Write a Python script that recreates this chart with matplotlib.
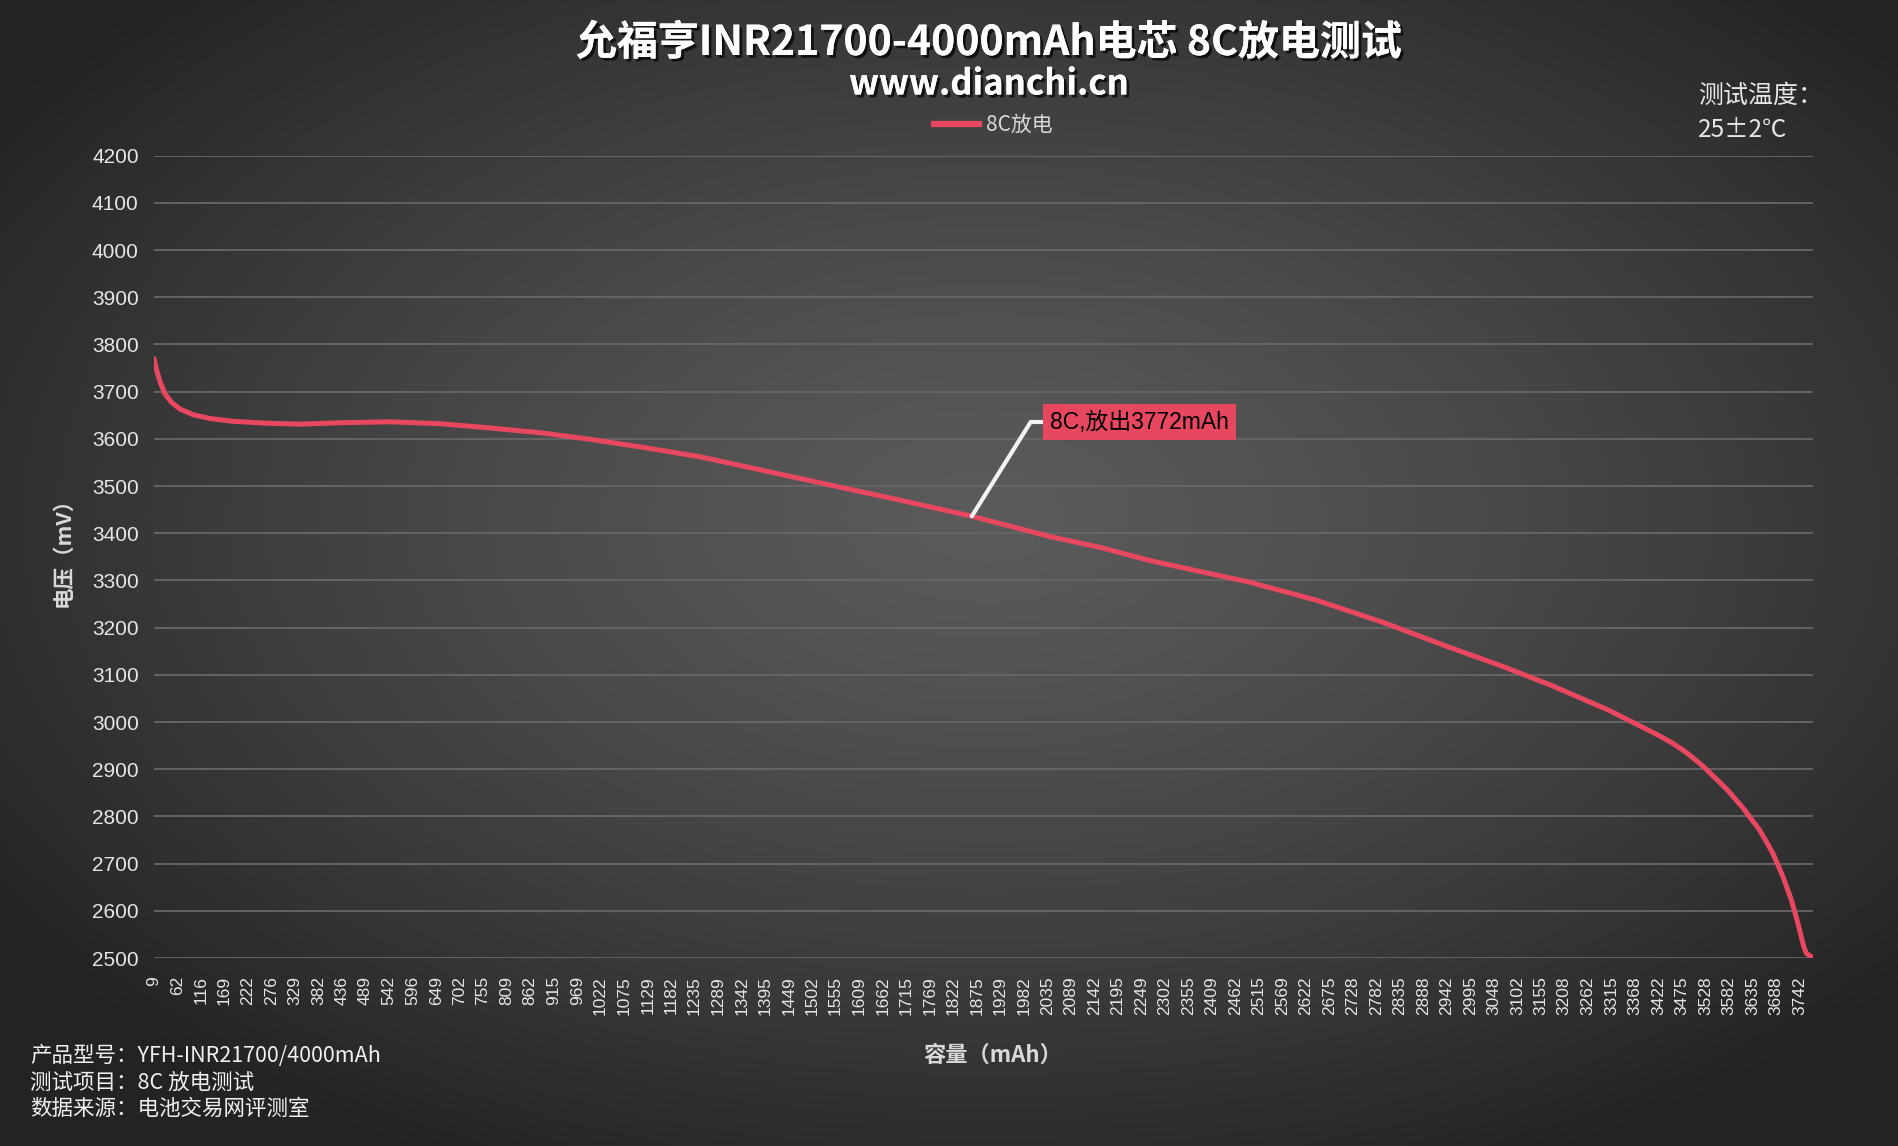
import numpy as np
import matplotlib
matplotlib.use("Agg")
import matplotlib.pyplot as plt
import matplotlib.patheffects as pe
from matplotlib.lines import Line2D

# ---------------- data ----------------
capacity_mAh = [9, 15, 23, 34, 49, 68, 98, 136, 189, 265, 340, 431, 544, 658, 771, 884, 998,
                1111, 1247, 1474, 1701, 1864, 2041, 2155, 2268, 2495, 2646, 2797, 2948, 3062,
                3175, 3311, 3417, 3450, 3478, 3500, 3523, 3576, 3614, 3651, 3681, 3704, 3723,
                3738, 3751, 3757, 3772]
voltage_mV = [3770, 3745, 3720, 3695, 3677, 3663, 3651, 3643, 3637, 3633, 3631, 3634, 3636,
              3632, 3623, 3613, 3599, 3583, 3562, 3516, 3470, 3436, 3393, 3370, 3342, 3296,
              3258, 3211, 3158, 3120, 3079, 3024, 2974, 2957, 2940, 2924, 2906, 2858, 2817,
              2771, 2722, 2672, 2623, 2573, 2524, 2510, 2500]
x_tick_labels = [9, 62, 116, 169, 222, 276, 329, 382, 436, 489, 542, 596, 649, 702, 755,
                 809, 862, 915, 969, 1022, 1075, 1129, 1182, 1235, 1289, 1342, 1395, 1449,
                 1502, 1555, 1609, 1662, 1715, 1769, 1822, 1875, 1929, 1982, 2035, 2089,
                 2142, 2195, 2249, 2302, 2355, 2409, 2462, 2515, 2569, 2622, 2675, 2728,
                 2782, 2835, 2888, 2942, 2995, 3048, 3102, 3155, 3208, 3262, 3315, 3368,
                 3422, 3475, 3528, 3582, 3635, 3688, 3742]
y_ticks = list(range(2500, 4201, 100))
series_name = "8C放电"
annot_index = 21
annot_text = "8C,放出3772mAh"
title = "允福亨INR21700-4000mAh电芯 8C放电测试"
subtitle = "www.dianchi.cn"
info_lines = ["产品型号：YFH-INR21700/4000mAh", "测试项目：8C 放电测试", "数据来源：电池交易网评测室"]
temp_lines = ["测试温度：", "25±2℃"]

CJK = ["Noto Sans CJK SC", "DejaVu Sans"]
LAT = ["Liberation Sans", "Noto Sans CJK SC", "DejaVu Sans"]
RED = "#E8485F"
TXT = "#E6E6E6"

W, H = 1899, 1146
fig = plt.figure(figsize=(W / 100, H / 100), dpi=100)

# background radial gradient
bg = fig.add_axes([0, 0, 1, 1], zorder=-10)
gx, gy = np.meshgrid(np.linspace(0, 1, 400), np.linspace(0, 1, 250))
r = np.sqrt(((gx - 0.52) / 0.62) ** 2 + ((gy - 0.55) / 0.62) ** 2)
val = 0.355 - (0.355 - 0.145) * np.clip(r, 0, 1.2) ** 1.3
val = np.clip(val, 0.14, 0.36)
bg.imshow(np.dstack([val, val, val]), extent=[0, 1, 0, 1], aspect="auto", origin="lower")
bg.axis("off")

ax = fig.add_axes([154 / W, 1 - 958 / H, 1659 / W, (958 - 155.6) / H])
ax.set_facecolor("none")
line, = ax.plot(capacity_mAh, voltage_mV, color=RED, lw=3.6, solid_capstyle="round",
                solid_joinstyle="round", zorder=3)
ax.set_xlim(capacity_mAh[0], capacity_mAh[-1])
ax.set_ylim(y_ticks[0], y_ticks[-1])
ax.set_yticks(y_ticks)
ax.set_yticklabels([str(v) for v in y_ticks], family=LAT, fontsize=15, color=TXT)
ax.set_xticks(x_tick_labels)
ax.set_xticklabels([str(v) for v in x_tick_labels], family=LAT, fontsize=12.5,
                   color=TXT, rotation=90, va="top", ha="center")
ax.tick_params(axis="both", length=0)
ax.tick_params(axis="y", pad=11)
ax.tick_params(axis="x", pad=13)
ax.grid(axis="y", color="#676767", lw=1.3)
ax.grid(axis="x", visible=False)
for s in ax.spines.values():
    s.set_visible(False)

# annotation
ax.annotate(annot_text, xy=(capacity_mAh[annot_index], voltage_mV[annot_index]), xycoords="data",
            xytext=(1050, H - 422), textcoords="figure pixels",
            ha="left", va="center", fontsize=16.5, family=LAT, color="black",
            bbox=dict(boxstyle="square,pad=0.3", fc=RED, ec="none"),
            arrowprops=dict(arrowstyle="-", color="#F2F2F2", lw=3,
                            connectionstyle="angle,angleA=0,angleB=58,rad=0",
                            shrinkA=0, shrinkB=0, relpos=(0, 0.5)),
            zorder=5)

# legend
fig.legend(handles=[Line2D([0], [0], color=RED, lw=4.5)], labels=[series_name],
           loc="center", bbox_to_anchor=(993 / W, 1 - 125 / H), frameon=False,
           handlelength=2.2, handletextpad=0.3, prop=dict(family=CJK, size=15),
           labelcolor="#D9D9D9")

shadow = [pe.withSimplePatchShadow(offset=(2, -2), shadow_rgbFace="black", alpha=0.7), pe.Normal()]
fig.text(989 / W, 1 - 43 / H, title, ha="center", va="center", fontsize=29.5, fontweight="bold",
         family=CJK, color="white", path_effects=shadow)
fig.text(989 / W, 1 - 84 / H, subtitle, ha="center", va="center", fontsize=25, fontweight="bold",
         family=CJK, color="white", path_effects=shadow)

fig.text(1698 / W, 1 - 96 / H, temp_lines[0], ha="left", va="center", fontsize=18, family=CJK, color=TXT)
fig.text(1698 / W, 1 - 130 / H, temp_lines[1], ha="left", va="center", fontsize=17.5, family=CJK, color=TXT)

fig.text(63 / W, 1 - 547 / H, "电压（mV）", rotation=90, ha="center", va="center", fontsize=15.5,
         fontweight="bold", family=CJK, color="#D9D9D9")
fig.text(993 / W, 1 - 1055 / H, "容量（mAh）", ha="center", va="center", fontsize=16,
         fontweight="bold", family=CJK, color="#D9D9D9")

for i, t in enumerate(info_lines):
    fig.text(30 / W, 1 - (1056 + 26.5 * i) / H, t, ha="left", va="center", fontsize=15.5,
             family=CJK, color="#F0F0F0")

fig.savefig("out.png", dpi=100)
